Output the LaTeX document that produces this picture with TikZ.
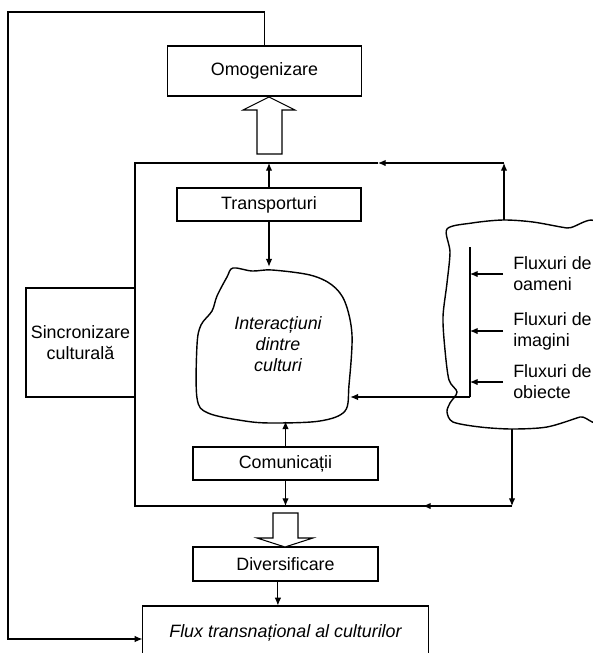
\documentclass[tikz,border=0pt]{standalone}
\usepackage{fontspec}
\setmainfont{Liberation Sans}
\usetikzlibrary{arrows.meta,calc,positioning}

\begin{document}
\begin{tikzpicture}[
    x=0.025cm, y=-0.025cm,
    box/.style={rectangle, draw, line width=0.75pt, inner sep=0pt, align=center, font=\fontsize{12.7}{14.8}\selectfont},
    ghost/.style={rectangle, inner sep=0pt, align=center, font=\fontsize{12.7}{14.8}\selectfont},
    srctext/.style={rectangle, anchor=west, inner xsep=0.25cm, inner ysep=0pt, align=left, font=\fontsize{12.7}{14.8}\selectfont},
    arrow/.style={-{Latex[length=5.5pt,width=4.6pt]}, line width=0.75pt},
    line/.style={line width=0.75pt},
    blob/.style={line width=1pt},
    hollow/.style={line width=0.75pt, fill=white, line join=miter}
]
    \useasboundingbox (0,0) rectangle (593,653);

    \node[box, minimum width=4.85cm, minimum height=1.25cm] (omog) at (264.5,71) {Omogenizare};
    \node[box, minimum width=4.6cm, minimum height=0.825cm] (transp) at (269,204.5) {Transporturi};
    \node[box, minimum width=2.725cm, minimum height=2.725cm] (sincr) at (80.5,342.5) {Sincronizare\\culturală};
    \node[ghost, minimum width=3.6cm, minimum height=3.85cm] (inter) at (278,344) {\itshape Interacțiuni\\\itshape dintre\\\itshape culturi};
    \node[box, minimum width=4.625cm, minimum height=0.825cm] (comm) at (285.5,463.5) {Comunicații};
    \node[box, minimum width=4.625cm, minimum height=0.85cm] (divers) at (285.5,564) {Diversificare};
    \node[box, minimum width=7.125cm, minimum height=1.35cm] (flux) at (285.5,633) {\itshape Flux transnațional al culturilor};

    % sources of flows
    \node[srctext] (foam) at (503,274) {Fluxuri de\\oameni};
    \node[srctext] (fimg) at (503,331) {Fluxuri de\\imagini};
    \node[srctext] (fobj) at (503,382) {Fluxuri de\\obiecte};

    \coordinate (ltop) at (470,247);
    \coordinate (lbot) at (470,397);
    \coordinate (ctop) at (504,220);
    \coordinate (cbot) at (512,429);
    \coordinate (ftl) at (135,163);
    \coordinate (ftr) at (504,163);
    \coordinate (fbl) at (135,506);
    \coordinate (fbr) at (512,506);
    \coordinate (tmid) at (378,163);
    \coordinate (bmid) at (423,506);
    \coordinate (fb) at (8,12);

    % clouds
    \draw[blob] plot[smooth cycle, tension=0.55] coordinates {(233,268) (252,271) (272,270) (310,275) (332,285) (345,302) (352,335) (349,385) (345,411) (320,421) (273,423) (245,421) (208,413) (197,398) (197,345) (201,325) (212,311) (217,296) (227,277)};
    \draw[blob] plot[smooth cycle, tension=0.5] coordinates {(447,229) (472,223) (503,220) (533,222) (567,228) (602,232) (602,410) (580,417) (547,427) (512,429) (480,427) (453,422) (447,412) (450,403) (457,392) (449,380) (445,350) (443,317) (447,283) (450,252)};

    % hollow arrows
    \draw[hollow] (257,154) -- (257,110) -- (243,110) -- (269,97) -- (295,110) -- (282,110) -- (282,154) -- cycle;
    \draw[hollow] (273,513) -- (273,538) -- (257,538) -- (285,547) -- (313,538) -- (298,538) -- (298,513) -- cycle;

    % frame
    \draw[arrow] (ctop) -- (ftr);
    \draw[arrow] (ftr) -- (tmid);
    \draw[line] (tmid) -- (ftl) -- (fbl) -- (fbr);
    \draw[arrow] (cbot) -- (fbr);
    \draw[arrow] (fbr) -- (bmid);

    \draw[arrow] (transp.north) -- (transp.north |- ftl);
    \draw[arrow] (transp.south) -- (transp.south |- inter.north);
    \draw[arrow] (comm.north) -- (comm.north |- inter.south);
    \draw[arrow] (comm.south) -- (comm.south |- fbl);
    \draw[arrow] ([xshift=-0.19cm]divers.south) -- ([xshift=-0.19cm]divers.south |- flux.north);

    \draw[line] (ltop) -- (lbot);
    \draw[arrow] (lbot) -- (lbot -| inter.east);
    \draw[arrow] (foam.west) -- (foam.west -| ltop);
    \draw[arrow] (fimg.west) -- (fimg.west -| ltop);
    \draw[arrow] (fobj.west) -- (fobj.west -| ltop);

    % feedback
    \draw[arrow] (omog.north) |- (fb) |- ([yshift=-0.15cm]flux.west);
\end{tikzpicture}
\end{document}
